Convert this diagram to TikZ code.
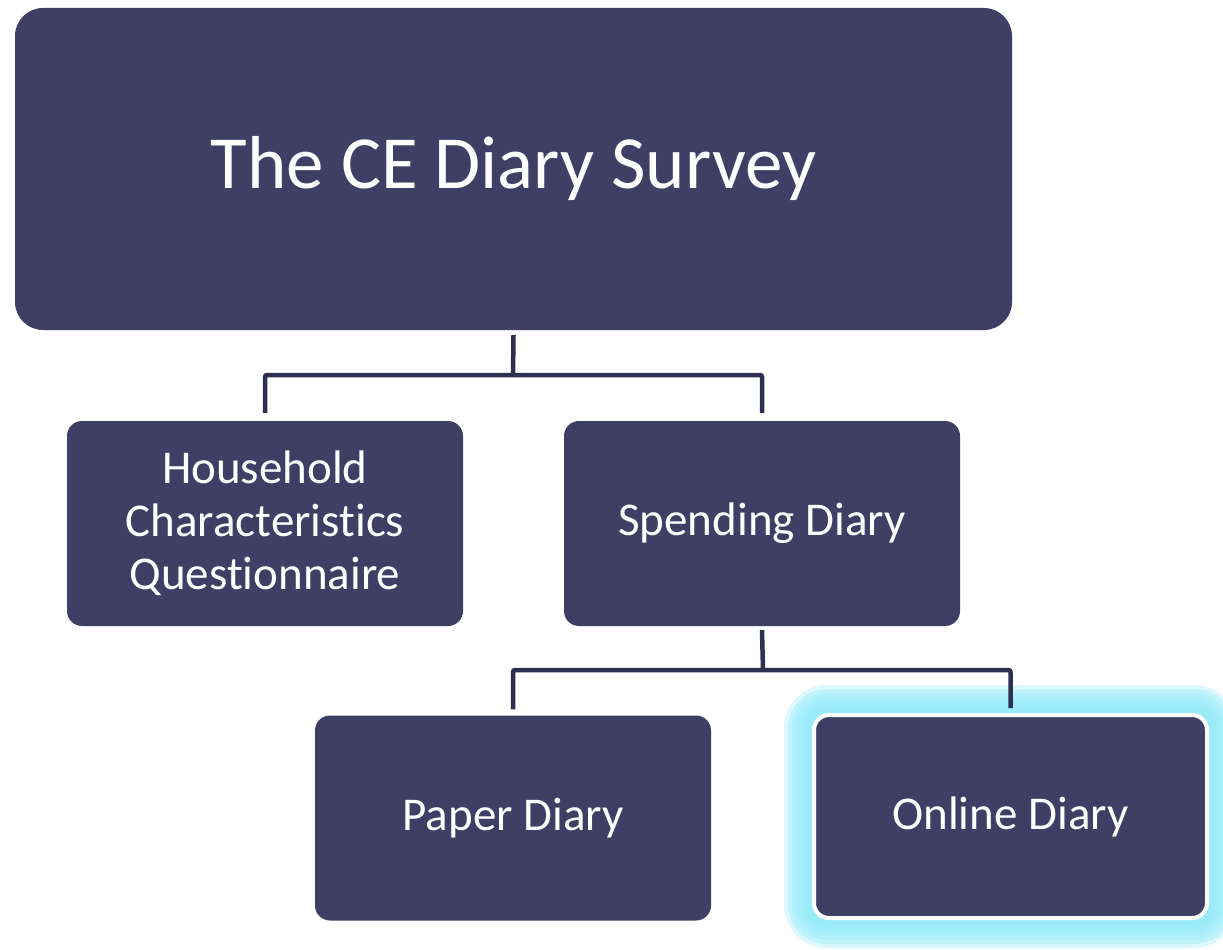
\documentclass[tikz,border=0pt]{standalone}
\usepackage{fontspec}
\setmainfont[Ligatures=CommonOff]{Carlito}
\usetikzlibrary{positioning}

\definecolor{boxblue}{RGB}{63,63,102}
\definecolor{linkblue}{RGB}{47,47,80}
\definecolor{glowcyan}{RGB}{150,236,251}

\pgfdeclarelayer{background}
\pgfsetlayers{background,main}

\tikzset{box/.style={fill=boxblue, text=white, rounded corners=15pt, inner sep=0pt,
        minimum width=396pt, minimum height=205pt, align=center, font=\fontsize{47}{53}\selectfont},
    title box/.style={box, rounded corners=28pt, minimum width=997pt, minimum height=322pt,
        font=\fontsize{75}{85}\selectfont},
    picked box/.style={box, draw=white, line width=4pt, minimum width=393pt, minimum height=203pt},
    link/.style={draw=linkblue, line width=4.5pt, rounded corners=2pt},
}

\begin{document}
\begin{tikzpicture}[x=1pt, y=-1pt]
	\useasboundingbox (0,0) rectangle (1223,950);

	% boxes
	\node[title box] (survey) at (513.5,169) {The CE Diary Survey};
	\node[box] (house) at (265,523.5) {Household\\Characteristics\\Questionnaire};
	\node[box] (spend) at (762,523.5) {Spending Diary};
	\node[box] (paper) at (513,818) {Paper Diary};
	\node[picked box] (online) at (1010.5,816.5) {Online Diary};

	% glow round the online diary
	\begin{pgfonlayer}{background}
		\fill[white] (0,0) rectangle (1223,950);
		\foreach \g in {4,8,...,28} {
			\fill[glowcyan, opacity=0.35, rounded corners=15pt+\g pt]
				([shift={(-\g pt,-\g pt)}]online.south west) rectangle ([shift={(\g pt,\g pt)}]online.north east);
		}
	\end{pgfonlayer}

	% joints
	\coordinate (j1) at (513,375);
	\coordinate (j2) at (763,670);

	% connectors
	\draw[link] ([yshift=-5pt]survey.south) -- (j1);
	\draw[link] (j1) -| ([yshift=8pt]house.north);
	\draw[link] (j1) -| ([yshift=8pt]spend.north);
	\draw[link] ([yshift=-4pt]spend.south) -- (j2);
	\draw[link] (j2) -| ([yshift=6pt]paper.north);
	\draw[link] (j2) -| ([yshift=5pt]online.north);
\end{tikzpicture}
\end{document}
